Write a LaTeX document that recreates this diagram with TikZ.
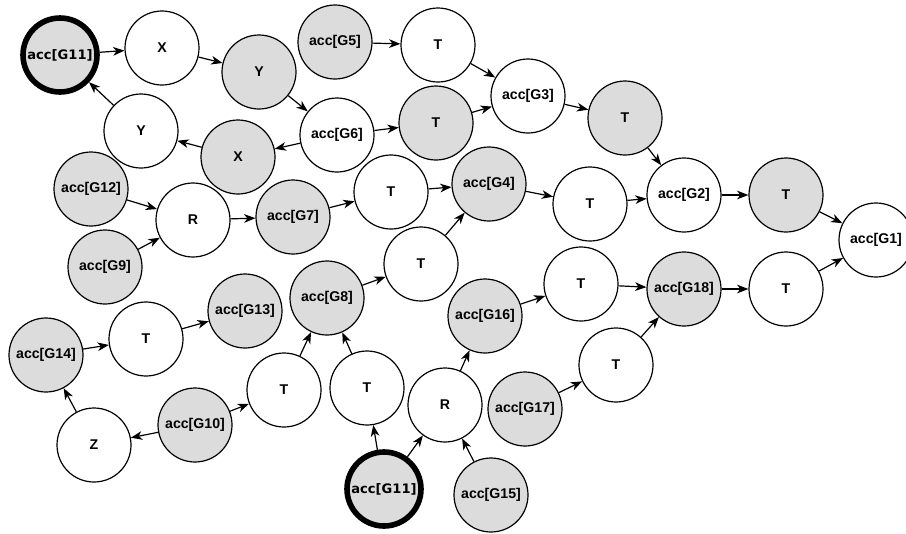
\documentclass[tikz,border=0pt]{standalone}
\usepackage{fontspec}
\setmainfont{Liberation Sans}
\newfontfamily\startfont{DejaVu Sans}
\usetikzlibrary{arrows.meta}
\definecolor{NodeGray}{RGB}{220, 220, 220}

\tikzset{
  vert/.style={circle, draw, line width=0.9pt, minimum size=55.5pt, inner sep=0pt,
    font=\fontsize{10.6}{12}\selectfont\bfseries},
  accnode/.style={vert, fill=NodeGray},
  tnode/.style={vert, fill=white},
  startnode/.style={accnode, line width=4.2pt, font=\fontsize{9.8}{12}\selectfont\startfont\bfseries},
  edge/.style={line width=0.9pt, -{Stealth[length=8.5pt, width=6.5pt, inset=2.5pt]}}
}

\begin{document}
\begin{tikzpicture}[x=0.75pt, y=-0.75pt]
  \useasboundingbox (0, 0) rectangle (906, 533);

  % Top cycle
  \node[startnode] (g11a) at (60, 55) {acc[G11]};
  \node[tnode] (x1) at (162, 48) {X};
  \node[accnode] (y1) at (259, 72) {Y};
  \node[tnode] (y2) at (141, 131) {Y};
  \node[accnode] (x2) at (238, 157) {X};
  \node[tnode] (g6) at (337, 135) {acc[G6]};

  % Upper chain
  \node[accnode] (g5) at (335, 42) {acc[G5]};
  \node[tnode] (t1) at (438, 45) {T};
  \node[accnode] (t2) at (436, 123) {T};
  \node[tnode] (g3) at (528, 96) {acc[G3]};
  \node[accnode] (t3) at (625, 118) {T};
  \node[tnode] (g2) at (684, 195) {acc[G2]};
  \node[accnode] (t4) at (786, 195) {T};
  \node[tnode] (g1) at (876, 240) {acc[G1]};

  % Middle
  \node[accnode] (g12) at (91, 189) {acc[G12]};
  \node[tnode] (r1) at (193, 220) {R};
  \node[accnode] (g9) at (105, 267) {acc[G9]};
  \node[accnode] (g7) at (293, 217) {acc[G7]};
  \node[tnode] (t5) at (391, 192) {T};
  \node[accnode] (g4) at (489, 184) {acc[G4]};
  \node[tnode] (t6) at (590, 204) {T};
  \node[tnode] (t7) at (421, 264) {T};
  \node[accnode] (g8) at (327, 298) {acc[G8]};

  % Lower left
  \node[accnode] (g13) at (245, 311) {acc[G13]};
  \node[tnode] (t8) at (146, 339) {T};
  \node[accnode] (g14) at (46, 355) {acc[G14]};
  \node[tnode] (z) at (94, 445) {Z};
  \node[accnode] (g10) at (195, 425) {acc[G10]};
  \node[tnode] (t9) at (284, 390) {T};
  \node[tnode] (t10) at (367, 388) {T};

  % Lower right
  \node[startnode] (g11b) at (384, 489) {acc[G11]};
  \node[tnode] (r2) at (445, 405) {R};
  \node[accnode] (g15) at (491, 495) {acc[G15]};
  \node[accnode] (g16) at (485, 316) {acc[G16]};
  \node[tnode] (t11) at (581, 284) {T};
  \node[accnode] (g17) at (525, 409) {acc[G17]};
  \node[tnode] (t12) at (616, 365) {T};
  \node[accnode] (g18) at (684, 289) {acc[G18]};
  \node[tnode] (t13) at (786, 289) {T};

  % Connectors
  \foreach \a/\b in {g11a/x1, x1/y1, y1/g6, g6/x2, x2/y2, y2/g11a,
      g5/t1, t1/g3, g6/t2, t2/g3, g3/t3, t3/g2, t6/g2, g2/t4, t4/g1,
      t13/g1, g18/t13, g12/r1, g9/r1, r1/g7, g7/t5, t5/g4, g4/t6,
      g8/t7, t7/g4, t8/g13, g14/t8, z/g14, g10/z, g10/t9, t9/g8,
      t10/g8, g11b/t10, g11b/r2, g15/r2, r2/g16, g16/t11, t11/g18,
      g17/t12, t12/g18}
    \draw[edge] (\a) -- (\b);
\end{tikzpicture}
\end{document}
